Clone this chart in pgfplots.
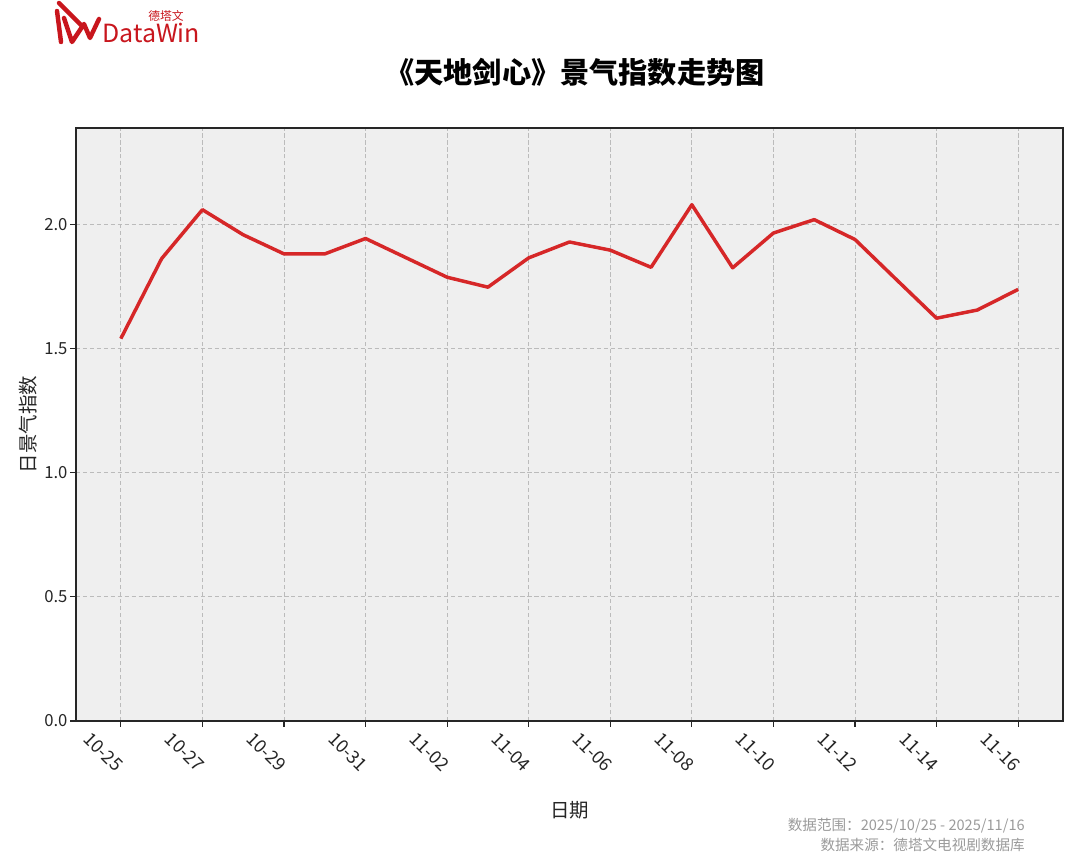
\documentclass[border=0pt]{standalone}
\usepackage{fontspec}
\setmainfont{Noto Sans CJK SC}
\usepackage{pgfplots}
\pgfplotsset{compat=1.18}
\definecolor{linered}{HTML}{D62728}
\definecolor{logored}{HTML}{C8161D}
\definecolor{axbg}{HTML}{EFEFEF}
\definecolor{gridc}{HTML}{BBBBBB}
\definecolor{footc}{HTML}{9A9A9A}
\begin{document}
\begin{tikzpicture}[x=0.72pt,y=0.72pt]
\useasboundingbox (0,0) rectangle (1080,864);
\begin{axis}[
  at={(54.72pt,102.96pt)}, anchor=south west,
  scale only axis, width=710.64pt, height=426.96pt,
  xmin=-1.1, xmax=23.1, ymin=0, ymax=2.388,
  axis background/.style={fill=axbg},
  axis line style={draw=black!85, line width=0.8pt},
  xtick={0,2,...,22},
  xticklabels={10-25,10-27,10-29,10-31,11-02,11-04,11-06,11-08,11-10,11-12,11-14,11-16},
  ytick={0,0.5,1.0,1.5,2.0},
  yticklabel style={/pgf/number format/fixed, /pgf/number format/fixed zerofill, /pgf/number format/precision=1},
  /pgf/number format/assume math mode=true,
  tick align=outside, major tick length=4pt,
  tick style={draw=black!85, line width=0.8pt},
  xtick pos=bottom, ytick pos=left,
  grid=major,
  major grid style={draw=gridc, dash pattern=on 3pt off 2pt, line width=0.6pt},
  ticklabel style={font=\fontsize{12}{14}\selectfont, text=black!85},
  xticklabel style={font=\fontsize{13}{15}\selectfont, rotate=-45, anchor=east, inner sep=0pt, xshift=-1pt},
  xticklabel shift=31pt,
  yticklabel style={inner sep=2pt},
  xlabel={日期}, ylabel={日景气指数},
  label style={font=\fontsize{14}{16}\selectfont, text=black!85},
  xlabel style={at={(rel axis cs:0.5,-0.150)}, anchor=center},
  ylabel style={at={(rel axis cs:-0.0486,0.5)}, anchor=center, rotate=0},
  clip=false,
]
\addplot[color=linered, line width=2.5pt, line join=round] coordinates {
(0,1.540) (1,1.862) (2,2.059) (3,1.958) (4,1.881) (5,1.881) (6,1.943)
(7,1.865) (8,1.787) (9,1.747) (10,1.865) (11,1.929) (12,1.896) (13,1.827)
(14,2.079) (15,1.825) (16,1.965) (17,2.019) (18,1.939) (19,1.780) (20,1.622)
(21,1.655) (22,1.738)
};
\end{axis}
% title
\node[font=\fontsize{21}{25}\selectfont\bfseries, anchor=center] at (575,792) {《天地剑心》景气指数走势图};
% footer
\node[font=\fontsize{10.5}{12}\selectfont, text=footc, anchor=east, inner sep=0pt] at (1025,38) {数据范围：2025/10/25 - 2025/11/16};
\node[font=\fontsize{10.5}{12}\selectfont, text=footc, anchor=east, inner sep=0pt] at (1025,19) {数据来源：德塔文电视剧数据库};
% logo
\begin{scope}[draw=logored, line width=3.2pt, line cap=round, line join=round]
\draw (57,853) -- (61,822);
\draw (59,861) -- (82,838);
\draw (64,846) -- (72,822) -- (84,840) -- (90,826) -- (99,845);
\end{scope}
\node[font=\fontsize{18}{20}\selectfont, text=logored, anchor=base west, inner sep=0pt] at (102,821) {DataWin};
\node[font=\fontsize{8.5}{10}\selectfont, text=logored, anchor=base east, inner sep=0pt] at (184,843) {德塔文};
\end{tikzpicture}
\end{document}
